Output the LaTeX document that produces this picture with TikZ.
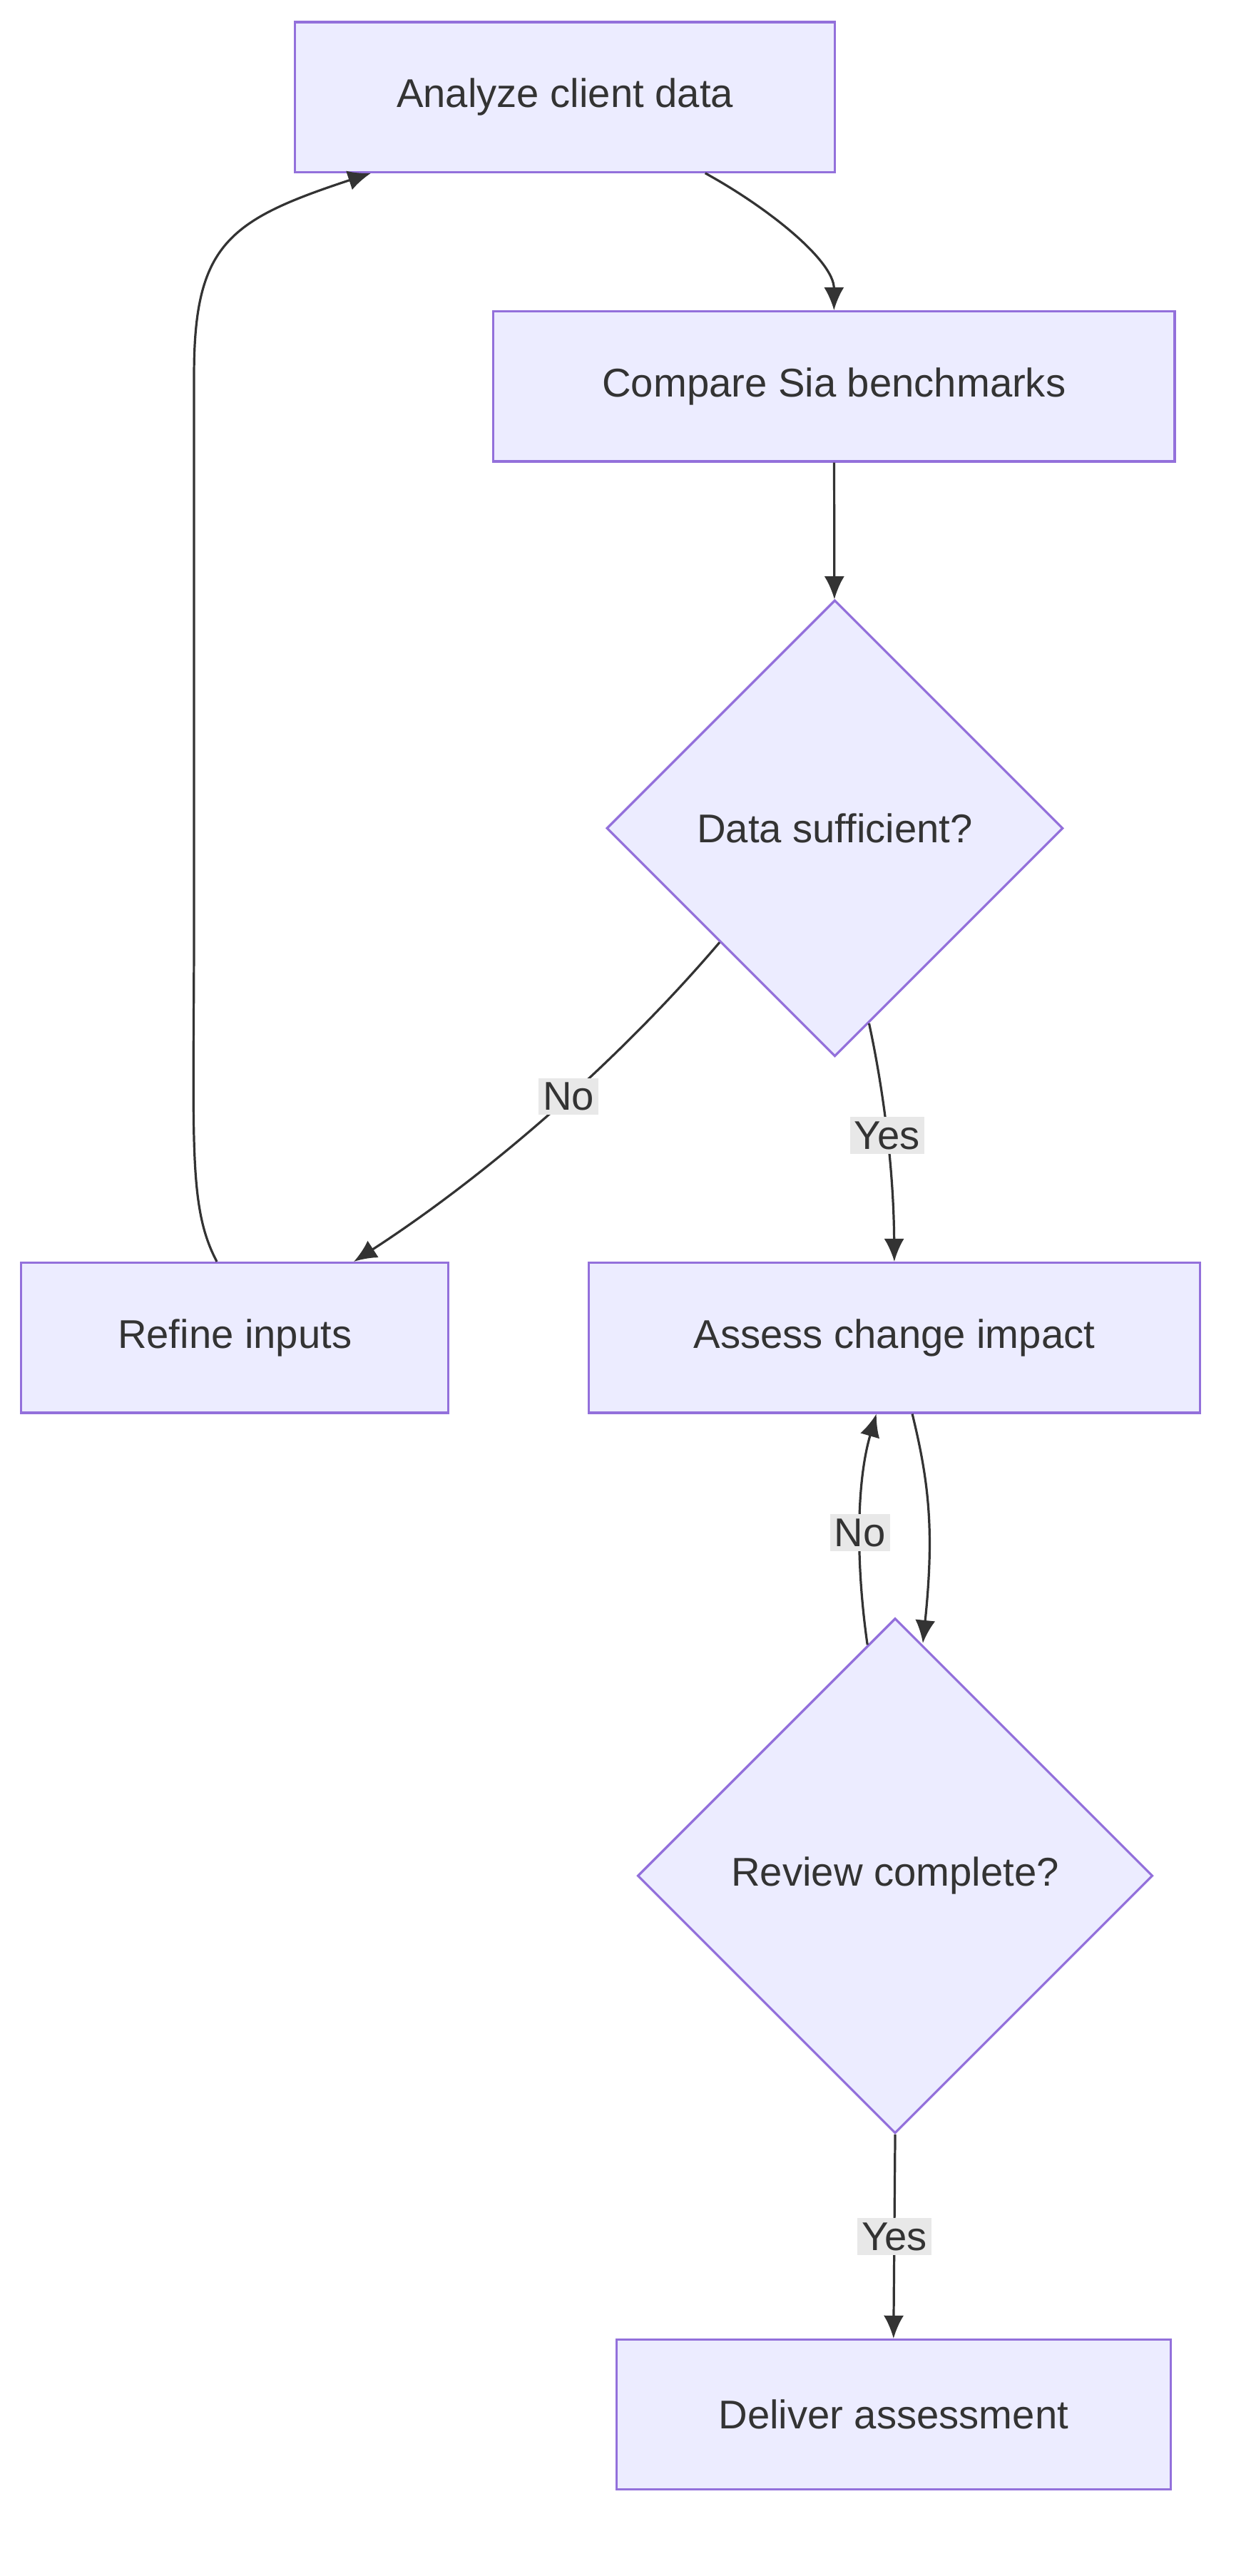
\documentclass[tikz,border=0pt]{standalone}
\usepackage{fontspec}
\setmainfont{Liberation Sans}
\usetikzlibrary{shapes.geometric,arrows.meta,calc}
\definecolor{nfill}{HTML}{ECECFF}
\definecolor{nline}{HTML}{9370DB}
\definecolor{txt}{HTML}{333333}
\definecolor{lbl}{HTML}{E8E8E8}
\begin{document}
\begin{tikzpicture}[x=0.02cm,y=-0.02cm,
  box/.style={draw=nline,fill=nfill,line width=0.8pt,text=txt,font=\fontsize{14}{16}\selectfont,inner sep=0},
  dia/.style={box,diamond,aspect=1},
  edge/.style={draw=txt,line width=0.8pt,-{Latex[length=8pt,width=7pt]}},
  lab/.style={fill=lbl,text=txt,font=\fontsize{14}{16}\selectfont,inner sep=1.5pt}]
\useasboundingbox (0,0) rectangle (770,1580);
\node[box,minimum width=6.62cm,minimum height=1.84cm] (a) at (346.5,59.5) {Analyze client data};
\node[box,minimum width=8.36cm,minimum height=1.84cm] (c) at (511.5,237) {Compare Sia benchmarks};
\node[dia,minimum width=5.6cm,minimum height=5.6cm] (d) at (512,508) {Data sufficient?};
\node[box,minimum width=5.24cm,minimum height=1.84cm] (r) at (144,820.5) {Refine inputs};
\node[box,minimum width=7.5cm,minimum height=1.84cm] (s) at (548.5,820.5) {Assess change impact};
\node[dia,minimum width=6.32cm,minimum height=6.32cm] (v) at (549,1150.5) {Review complete?};
\node[box,minimum width=6.8cm,minimum height=1.84cm] (e) at (548,1481) {Deliver assessment};

\draw[edge] ($(a.south)+(86,0)$) .. controls +(40,22) and +(0,-30) .. (c.north);
\draw[edge] (c) -- (d);
\draw[edge] ($(d.west)+(70,70)$) .. controls (380,650) and (300,720) .. ($(r.north)+(73,0)$)
  node[lab,pos=0.45] {No};
\draw[edge] ($(d.south)+(21,-21)$) .. controls (540,660) and (548,710) .. (s.north)
  node[lab,pos=0.55] {Yes};
\draw[edge] ($(r.north)+(-11,0)$) .. controls (115,740) and (119,700) .. (119,560)
  -- (119,230) .. controls (119,150) and (140,135) .. ($(a.south)+(-119,0)$);
\draw[edge] ($(s.south)+(11,0)$) .. controls (570,910) and (573,940) .. ($(v.north)+(17,16)$);
\draw[edge] ($(v.north)+(-17,17)$) .. controls (525,960) and (525,910) .. ($(s.south)+(-11,0)$)
  node[lab,pos=0.47] {No};
\draw[edge] (v.south) -- (e.north) node[lab,midway] {Yes};
\end{tikzpicture}
\end{document}
